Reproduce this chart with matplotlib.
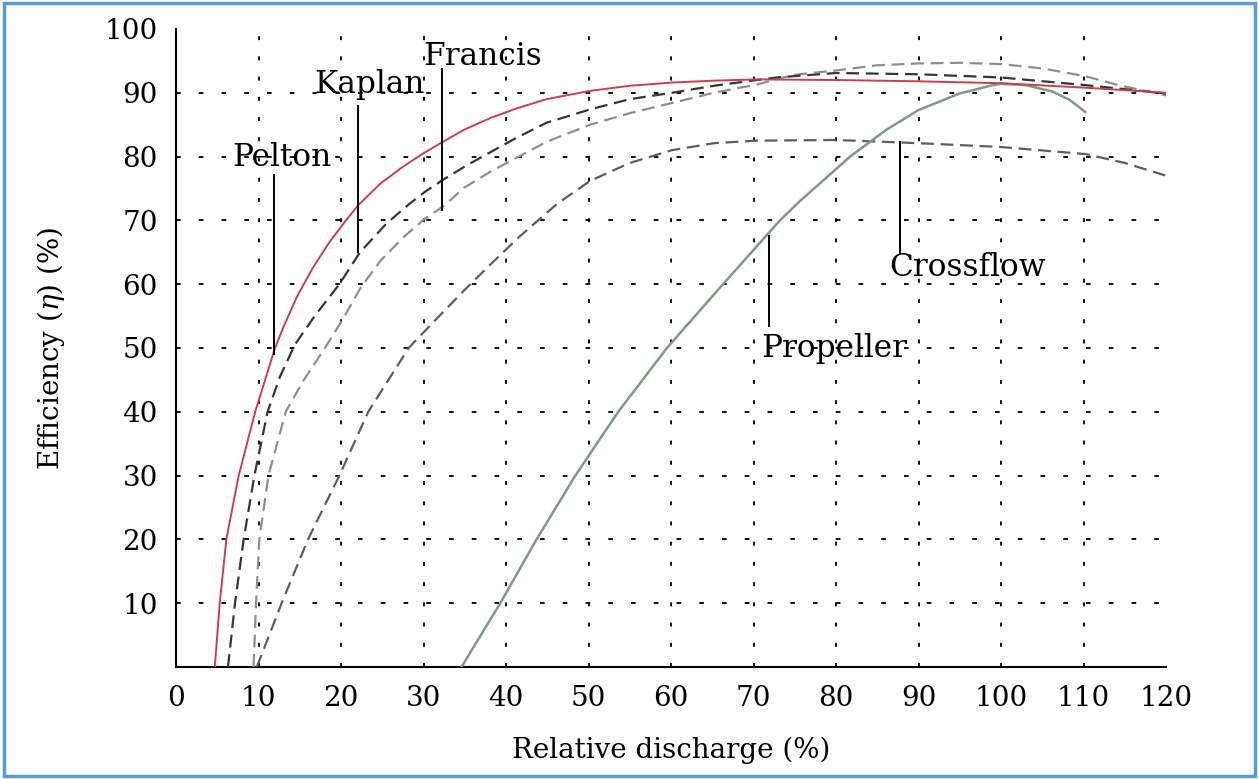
import matplotlib
matplotlib.use("Agg")
import matplotlib.pyplot as plt
from matplotlib.patches import Rectangle

plt.rcParams['font.family'] = ['DejaVu Serif']
plt.rcParams['mathtext.fontset'] = 'dejavuserif'

# curves (relative discharge %, efficiency %)
pelton_x = [4.7, 5.3, 6.1, 7.6, 9.6, 12.0, 13.0, 14.6, 16.6, 18.6, 20.6, 22.1, 24.8, 27.6, 30.1, 32.2,
            34.9, 38.2, 41.4, 44.9, 50.2, 55, 60.1, 65.2, 70.4, 80, 90, 100, 110.2, 120]
pelton_y = [0, 10, 20, 30, 40, 50, 53.2, 57.9, 62.6, 66.6, 70, 72.4, 75.8, 78.5, 80.6, 82.2,
            84.2, 86.1, 87.6, 89, 90.3, 91.1, 91.6, 91.9, 92.1, 92.0, 91.8, 91.5, 90.8, 90.0]

kaplan_x = [6.3, 7.15, 8.2, 9.5, 11.1, 12.6, 14.4, 16.8, 19.8, 22.3, 25.5, 28.3, 30.3, 32.3, 35.2, 38.4,
            41.2, 44.9, 50.2, 55, 60.1, 65.2, 70.4, 72.8, 80, 90, 100, 110.2, 120]
kaplan_y = [0, 10, 20, 30, 40, 45.5, 50.5, 55, 60, 65, 69.5, 72.6, 74.6, 76.3, 78.6, 80.9,
            82.9, 85.3, 87.4, 89, 90, 91.1, 92, 92.4, 93.1, 92.9, 92.4, 91.2, 89.9]

francis_x = [9.4, 9.7, 10.1, 11.2, 13.3, 15.4, 18.0, 20.3, 22.4, 24.8, 27.6, 30.1, 32.5, 34.9, 38.2,
             41.4, 44.9, 50.2, 55, 60.1, 65.2, 70.4, 74.8, 80, 84.9, 90, 95, 100, 105.1, 110.2, 114.2, 120]
francis_y = [0, 10, 20, 30, 40, 44.8, 49.9, 54.7, 59.5, 63.7, 67.4, 70.2, 72.3, 75.1, 77.7,
             79.9, 82.3, 85, 86.8, 88.4, 90, 91.3, 92.8, 93.5, 94.3, 94.6, 94.7, 94.5, 93.8, 92.6, 91.2, 89.6]

crossflow_x = [9.8, 12.8, 16.0, 19.8, 23.3, 28.2, 31.6, 34.9, 38.2, 41.5, 43, 46.2, 50.2, 55, 60.1,
               65.2, 70.4, 80, 90, 100, 110.2, 115, 120]
crossflow_y = [0, 10, 20, 30, 40, 50, 54.6, 59.0, 63.2, 67.3, 69.0, 72.6, 76.2, 79, 81,
               82.1, 82.5, 82.6, 82.1, 81.5, 80.4, 79, 77]

propeller_x = [34.6, 39.3, 43.7, 48.4, 53.6, 59.5, 66.3, 73.2, 75.6, 81.7, 86.1, 90, 95, 99, 100,
               103, 106.2, 108.3, 110.2]
propeller_y = [0, 10, 20, 30, 40, 50, 60, 70, 73.0, 80, 84.2, 87.3, 89.9, 91.2, 91.4,
               91.2, 90.2, 88.9, 87]

# callouts: pointer line and label (baseline position)
labels = ['Pelton', 'Kaplan', 'Francis', 'Propeller', 'Crossflow']
pointer_x = [11.9, 22.0, 32.2, 71.9, 87.8]
pointer_lo = [49, 65, 71.6, 53.4, 64.7]
pointer_hi = [77.1, 87.9, 93.7, 67.6, 82.3]
label_x = [12.8, 23.4, 37.2, 79.8, 95.9]
label_y = [78.5, 89.9, 94.4, 48.6, 61.3]

x_ticks = list(range(0, 121, 10))
y_ticks = list(range(10, 101, 10))
grid_x = list(range(10, 111, 10))
grid_y = list(range(10, 91, 10))

fig = plt.figure(figsize=(12.59, 7.79), dpi=100)
ax = fig.add_axes([0.1398, 0.1438, 0.7864, 0.8190])

# dotted grid
for gx in grid_x:
    ax.axvline(gx, color='black', lw=1.3, dashes=(2.2, 9), zorder=1)
for gy in grid_y:
    ax.axhline(gy, color='black', lw=1.3, dashes=(2.6, 10), zorder=1)

ax.plot(crossflow_x, crossflow_y, color='#5e5e5e', lw=1.6, dashes=(5.8, 3), zorder=3)
ax.plot(francis_x, francis_y, color='#8e8e8e', lw=1.6, dashes=(5.8, 3), zorder=3)
ax.plot(kaplan_x, kaplan_y, color='#363636', lw=1.6, dashes=(5.8, 3), zorder=3)
ax.plot(propeller_x, propeller_y, color='#7d9b87', lw=1.8, zorder=4)
ax.plot(pelton_x, pelton_y, color='#c8404f', lw=1.4, zorder=5)

for i in range(len(labels)):
    ax.plot([pointer_x[i], pointer_x[i]], [pointer_lo[i], pointer_hi[i]], color='black', lw=1.4, zorder=6)
    ax.text(label_x[i], label_y[i], labels[i], fontsize=22.5, ha='center', va='baseline', zorder=7)

ax.set_xlim(0, 120)
ax.set_ylim(0, 100)
ax.set_xticks(x_ticks)
ax.set_yticks(y_ticks)
ax.tick_params(axis='both', length=0, labelsize=20)
ax.tick_params(axis='y', pad=13)
ax.tick_params(axis='x', pad=13)

for side in ['top', 'right']:
    ax.spines[side].set_visible(False)
for side in ['left', 'bottom']:
    ax.spines[side].set_linewidth(1.5)

ax.set_xlabel('Relative discharge (%)', fontsize=20, labelpad=18)
ax.set_ylabel(r'Efficiency ($\eta$) (%)', fontsize=20, labelpad=27)

# blue frame around the picture
fig.patches.append(Rectangle((0.003, 0.004), 0.994, 0.992, transform=fig.transFigure,
                             fill=False, edgecolor='#5b9bd5', lw=2.5))

plt.savefig('out.png', dpi=100)
